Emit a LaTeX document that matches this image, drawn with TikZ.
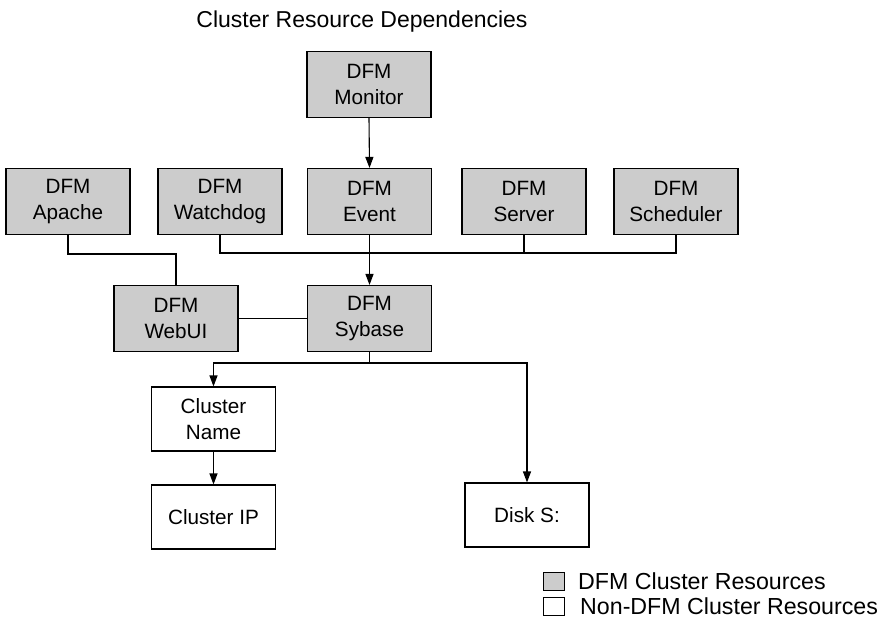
\documentclass[tikz,border=0pt]{standalone}
\usepackage{fontspec}
\setmainfont{Liberation Sans}
\usetikzlibrary{arrows.meta}
\definecolor{dfmgrey}{HTML}{CCCCCC}
\tikzset{
  box/.style={draw=black, line width=1.1pt, minimum width=124pt, minimum height=66pt,
    inner sep=0pt, align=center, font=\fontsize{20.7}{25.7}\selectfont},
  dfm/.style={box, fill=dfmgrey},
  plain/.style={box, fill=white},
  conn/.style={draw=black, line width=1.1pt},
  arr/.style={conn, -{Triangle[length=11pt,width=8pt]}},
  legbox/.style={draw=black, line width=1pt, minimum width=21pt, minimum height=18pt, inner sep=0pt},
  legtext/.style={anchor=base west, inner sep=0pt, font=\fontsize{23.2}{28}\selectfont},
}
\begin{document}
\begin{tikzpicture}[x=1pt,y=-1pt]
\useasboundingbox (0,0) rectangle (887,618);
\node[anchor=base, inner sep=0pt, font=\fontsize{23}{28}\selectfont] (title) at (362,28) {Cluster Resource Dependencies};

\node[dfm] (monitor) at (369,84.5) {DFM\\Monitor};
\node[dfm] (apache) at (68,201.5) {DFM\\Apache};
\node[dfm] (watchdog) at (220,201.5) {DFM\\Watchdog};
\node[dfm] (event) at (369.5,201.5) {DFM\\Event};
\node[dfm] (server) at (524,201.5) {DFM\\Server};
\node[dfm] (scheduler) at (676,201.5) {DFM\\Scheduler};
\node[dfm] (webui) at (176,318.5) {DFM\\WebUI};
\node[dfm] (sybase) at (369.5,318.5) {DFM\\Sybase};
\node[plain, minimum height=64pt] (cname) at (213.5,419) {Cluster\\Name};
\node[plain, minimum height=64pt] (cip) at (213.5,517) {Cluster IP};
\node[plain, minimum height=64pt] (disk) at (527,515) {Disk S:};

\coordinate (busA) at (0,253);
\coordinate (busC) at (0,254);
\coordinate (busB) at (0,363);

% Monitor -> Event
\draw[arr] (monitor.south) -- (event.north);
% Apache -- WebUI
\draw[conn] (apache.south) -- (apache.south |- busC) -- (webui.north |- busC) -- (webui.north);
% bus of top row
\draw[conn] (watchdog.south) -- (watchdog.south |- busA) -- (scheduler.south |- busA) -- (scheduler.south);
\draw[conn] (server.south) -- (server.south |- busA);
\draw[arr] (event.south) -- (sybase.north);
% WebUI -- Sybase
\draw[conn] (webui.east) -- (sybase.west);
% Sybase -> lower
\draw[conn] (sybase.south) -- (sybase.south |- busB);
\draw[arr] (sybase.south |- busB) -| (cname.north);
\draw[arr] (sybase.south |- busB) -| (disk.north);
\draw[arr] (cname.south) -- (cip.north);

% legend
\node[legbox, fill=dfmgrey] (lg1) at (553.5,581) {};
\node[legbox, fill=white] (lg2) at (553.5,606) {};
\node[legtext] (lt1) at (578,589) {DFM Cluster Resources};
\node[legtext] (lt2) at (580,614) {Non-DFM Cluster Resources};
\end{tikzpicture}
\end{document}
